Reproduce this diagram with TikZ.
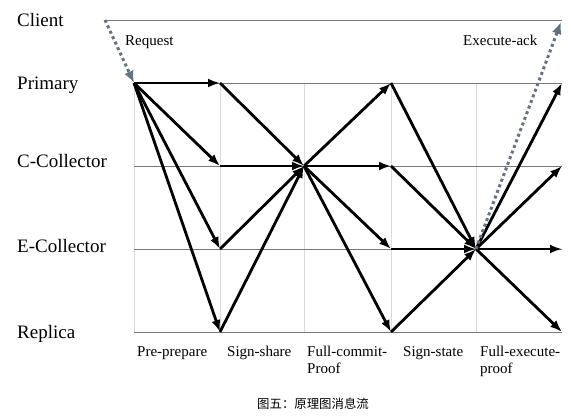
\documentclass[tikz,border=0pt]{standalone}
\usepackage{fontspec}
\setmainfont{Liberation Serif}
\newfontfamily\cjkfont{Noto Sans CJK SC}
\usetikzlibrary{arrows.meta}

\def \rowfont {\fontsize{19}{22}\selectfont}
\def \colfont {\fontsize{15}{17}\selectfont}
\definecolor{hgray}{RGB}{120,120,120}
\definecolor{vgray}{RGB}{218,218,218}
\definecolor{ackgray}{RGB}{100,115,130}

\tikzset{
  msg/.style={line width=2.8pt, -{Latex[length=12pt,width=9pt]}},
  ack/.style={line width=3pt, ackgray, dash pattern=on 3pt off 3pt, -{Latex[length=12pt,width=10pt]}},
  hline/.style={hgray, line width=0.9pt},
  vline/.style={vgray, line width=0.8pt},
  rowlabel/.style={anchor=base west, font=\rowfont, inner sep=0pt},
  collabel/.style={anchor=base west, font=\colfont, inner sep=0pt, align=left}
}

\begin{document}
\begin{tikzpicture}[x=1pt, y=-1pt]
\useasboundingbox (0,0) rectangle (571,417);

% rows
\node[rowlabel] (client) at (17,27) {Client};
\node[rowlabel] (primary) at (17,90) {Primary};
\node[rowlabel] (ccollector) at (17,168) {C-Collector};
\node[rowlabel] (ecollector) at (17,253) {E-Collector};
\node[rowlabel] (replica) at (17,338) {Replica};

% grid points
\foreach \c/\x in {1/134,2/220,3/304,4/391,5/476,6/562}
  \foreach \r/\y in {pri/83,cc/166,ec/249,rep/332}
    \coordinate (\r\c) at (\x,\y);
\coordinate (cl0) at (105,20);
\coordinate (cl6) at (562,20);
\coordinate (ackend) at (561,22);

\foreach \c in {1,...,5} \draw[vline] (pri\c) -- (rep\c);
\draw[hline] (cl0) -- (cl6);
\foreach \r in {pri,cc,ec,rep} \draw[hline] (\r1) -- (\r6);

% messages
\draw[ack] (cl0) -- (pri1); % request
\foreach \r in {pri,cc,ec,rep} \draw[msg] (pri1) -- (\r2);
\foreach \r in {pri,cc,ec,rep} \draw[msg] (\r2) -- (cc3);
\foreach \r in {pri,cc,ec,rep} \draw[msg] (cc3) -- (\r4);
\foreach \r in {pri,cc,ec,rep} \draw[msg] (\r4) -- (ec5);
\foreach \r in {pri,cc,ec,rep} \draw[msg] (ec5) -- (\r6);
\draw[ack] (ec5) -- (ackend); % execute-ack

\node[collabel] (request) at (125,46) {Request};
\node[collabel] (executeack) at (463,46) {Execute-ack};

% phases (two-line ones sit on their last line)
\node[collabel] (preprepare) at (137,356) {Pre-prepare};
\node[collabel] (signshare) at (227,356) {Sign-share};
\node[collabel] (fullcommit) at (307,373) {Full-commit-\\Proof};
\node[collabel] (signstate) at (403,356) {Sign-state};
\node[collabel] (fullexecute) at (480,373) {Full-execute-\\proof};

\node[anchor=base west, inner sep=0pt, font=\cjkfont\fontsize{12.4}{14}\selectfont] (caption) at (257,408) {图五：原理图消息流};
\end{tikzpicture}
\end{document}
